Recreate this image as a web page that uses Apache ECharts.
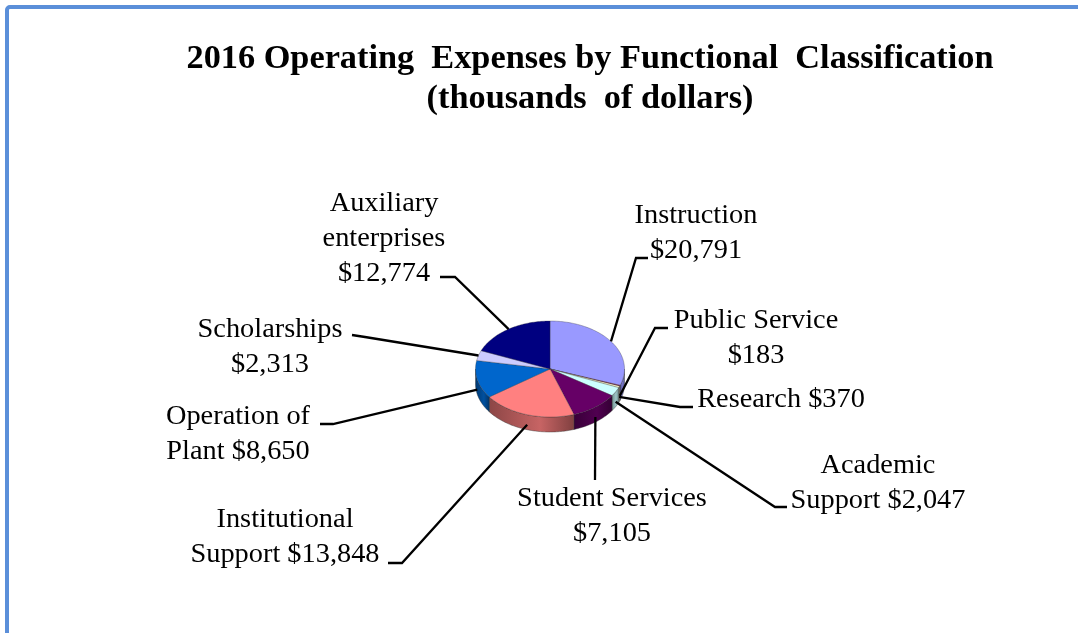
<!DOCTYPE html>
<html>
<head>
<meta charset="utf-8">
<script src="https://cdn.jsdelivr.net/npm/echarts@6/dist/echarts.min.js"></script>
<style>
  html, body { margin: 0; padding: 0; background: #fff; }
  #main { width: 1078px; height: 633px; }
</style>
</head>
<body>
<div id="main"></div>
<script>
const categories = ['Instruction', 'Public Service', 'Research', 'Academic Support', 'Student Services',
  'Institutional Support', 'Operation of Plant', 'Scholarships', 'Auxiliary enterprises']
const expenses = [20791, 183, 370, 2047, 7105, 13848, 8650, 2313, 12774]
const labelFormats = ['Instruction\n{v}', 'Public Service\n{v}', 'Research {v}', 'Academic\nSupport {v}',
  'Student Services\n{v}', 'Institutional\nSupport {v}', 'Operation of\nPlant {v}', 'Scholarships\n{v}',
  'Auxiliary\nenterprises\n{v}']
const colors = ['#9999FF', '#993366', '#FFFFCC', '#CCFFFF', '#660066', '#FF8080', '#0066CC', '#CCCCFF', '#000080']

// label centre, then the leader's elbow and its end next to the label
const labelPos = [[696, 233.5], [756, 338.5], [781, 399.5], [878, 483.5], [612, 516.5], [285, 537.5], [238, 434.5], [270, 347.5], [384, 238.5]]
const elbows = [[[636, 258], [648, 258]], [[655, 328], [668, 328]], [[680, 407], [693, 407]], [[775, 507], [787, 507]],
  [[595, 480], [595, 480]], [[402, 563], [388, 563]], [[333, 424], [320, 424]], [[365, 337], [352, 335]], [[455, 277], [440, 277]]]

const cx = 550, cy = 369, rx = 74.5, ry = 48, depth = 15
const total = expenses.reduce((a, b) => a + b, 0)
const startAngles = []
expenses.reduce((sum, v, i) => { startAngles[i] = sum / total * Math.PI * 2; return sum + v }, 0)

function rimPoint(a, drop) {
  return [cx + rx * Math.sin(a), cy - ry * Math.cos(a) + (drop || 0)]
}

function arcPoints(a0, a1, drop) {
  const n = Math.max(2, Math.ceil((a1 - a0) / 0.02))
  const pts = []
  for (let i = 0; i <= n; i++) pts.push(rimPoint(a0 + (a1 - a0) * i / n, drop))
  return pts
}

function shade(hex, f) {
  const n = parseInt(hex.slice(1), 16)
  const c = [n >> 16, (n >> 8) & 255, n & 255].map(v => Math.round(v * f))
  return 'rgb(' + c.join(',') + ')'
}

function renderSlice(params, api) {
  const i = params.dataIndex
  const value = api.value(0)
  const a0 = startAngles[i]
  const a1 = a0 + value / total * Math.PI * 2
  const children = []

  // outer wall, only the part facing the viewer
  const s0 = Math.max(a0, Math.PI / 2)
  const s1 = Math.min(a1, Math.PI * 1.5)
  if (s1 > s0) {
    const top = arcPoints(s0, s1, 0)
    const bottom = arcPoints(s0, s1, depth).reverse()
    children.push({
      type: 'polygon',
      shape: { points: top.concat(bottom) },
      style: {
        fill: new echarts.graphic.LinearGradient(0, 0, 1, 0, [
          { offset: 0, color: shade(colors[i], 0.55) },
          { offset: 0.6, color: shade(colors[i], 0.78) },
          { offset: 1, color: shade(colors[i], 0.5) }
        ]),
        stroke: 'rgba(50,50,50,0.6)',
        lineWidth: 0.7
      }
    })
  }

  // top face
  children.push({
    type: 'polygon',
    shape: { points: [[cx, cy]].concat(arcPoints(a0, a1, 0)) },
    style: { fill: colors[i], stroke: 'rgba(50,50,50,0.45)', lineWidth: 0.7 }
  })

  // leader line
  const mid = (a0 + a1) / 2
  const drop = Math.cos(mid) < 0 ? 10 : 0
  children.push({
    type: 'polyline',
    shape: { points: [rimPoint(mid, drop)].concat(elbows[i]) },
    style: { fill: null, stroke: '#000', lineWidth: 2.3 },
    z2: 5
  })

  // label
  const money = '$' + value.toLocaleString('en-US')
  children.push({
    type: 'text',
    x: labelPos[i][0],
    y: labelPos[i][1],
    scaleX: 1.05,
    style: {
      text: labelFormats[i].replace('{v}', money),
      x: 0,
      y: 0,
      align: 'center',
      verticalAlign: 'middle',
      fill: '#000',
      font: '27px "Liberation Serif"',
      lineHeight: 35
    },
    z2: 6
  })

  return { type: 'group', children: children }
}

const chart = echarts.init(document.getElementById('main'), null, { renderer: 'canvas' })
chart.setOption({
  animation: false,
  backgroundColor: '#fff',
  title: {
    text: '2016 Operating  Expenses by Functional  Classification\n(thousands  of dollars)',
    left: 585,
    top: 34,
    textAlign: 'center',
    textStyle: {
      fontFamily: '"Liberation Serif"',
      fontWeight: 'bold',
      fontSize: 34.3,
      lineHeight: 40,
      color: '#000'
    }
  },
  graphic: [{
    type: 'rect',
    shape: { x: 7, y: 7, width: 1200, height: 800, r: 3 },
    style: { fill: null, stroke: '#5B8FD9', lineWidth: 4 },
    silent: true
  }],
  series: [{
    type: 'custom',
    coordinateSystem: 'none',
    renderItem: renderSlice,
    data: categories.map((name, i) => ({ name: name, value: [expenses[i]] }))
  }]
})
</script>
</body>
</html>
